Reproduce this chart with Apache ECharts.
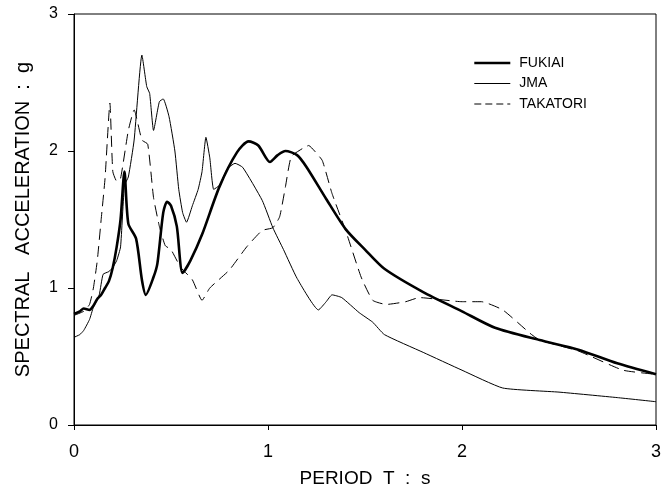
<!DOCTYPE html>
<html>
<head>
<meta charset="utf-8">
<script src="https://cdn.jsdelivr.net/npm/echarts@6/dist/echarts.min.js"></script>
<style>
html,body{margin:0;padding:0;background:#fff;}
#chart{width:671px;height:484px;}
</style>
</head>
<body>
<div id="chart"></div>
<script>
// Period (s) and spectral acceleration (g)
var fukiaiT  = [0,0.03,0.05,0.08,0.1,0.12,0.14,0.16,0.18,0.2,0.22,0.24,0.26,0.28,0.32,0.35,0.37,0.41,0.43,0.46,0.48,0.5,0.53,0.56,0.6,0.66,0.75,0.84,0.9,0.95,1.01,1.05,1.09,1.15,1.2,1.3,1.4,1.5,1.6,1.8,2.0,2.17,2.4,2.6,2.8,3.0];
var fukiaiSA = [0.81,0.83,0.85,0.84,0.87,0.92,0.95,1.0,1.05,1.15,1.3,1.5,1.85,1.47,1.36,1.06,0.95,1.08,1.18,1.55,1.63,1.6,1.45,1.11,1.2,1.39,1.74,1.99,2.07,2.04,1.92,1.97,2.0,1.97,1.88,1.65,1.43,1.28,1.14,0.97,0.83,0.71,0.62,0.55,0.45,0.37];

var jmaT  = [0,0.03,0.05,0.08,0.1,0.13,0.15,0.18,0.2,0.22,0.24,0.26,0.28,0.31,0.35,0.375,0.39,0.41,0.44,0.46,0.49,0.52,0.54,0.56,0.58,0.61,0.64,0.66,0.68,0.7,0.72,0.75,0.79,0.83,0.87,0.97,1.025,1.08,1.15,1.26,1.3,1.33,1.38,1.47,1.54,1.6,1.8,2.0,2.21,2.5,2.8,3.0];
var jmaSA = [0.64,0.66,0.69,0.77,0.86,0.95,1.1,1.12,1.15,1.2,1.3,1.75,1.81,2.08,2.7,2.47,2.42,2.15,2.36,2.38,2.25,2.0,1.72,1.55,1.48,1.6,1.72,1.85,2.1,1.95,1.72,1.75,1.87,1.91,1.88,1.64,1.44,1.28,1.07,0.84,0.9,0.95,0.93,0.82,0.75,0.66,0.53,0.4,0.27,0.24,0.2,0.17];

var takatoriT  = [0,0.05,0.08,0.1,0.12,0.14,0.16,0.185,0.2,0.22,0.24,0.28,0.31,0.35,0.38,0.41,0.44,0.47,0.5,0.55,0.61,0.66,0.7,0.8,0.89,0.97,1.025,1.06,1.09,1.12,1.18,1.21,1.24,1.28,1.33,1.4,1.48,1.54,1.61,1.71,1.78,2.0,2.1,2.21,2.35,2.4,2.6,2.83,3.0];
var takatoriSA = [0.8,0.83,0.88,1.0,1.2,1.5,1.8,2.35,1.85,1.78,1.8,2.15,2.3,2.08,2.05,1.66,1.45,1.31,1.28,1.15,1.06,0.91,1.0,1.13,1.3,1.42,1.44,1.52,1.74,1.96,2.02,2.04,2.0,1.93,1.69,1.42,1.08,0.91,0.88,0.9,0.93,0.9,0.9,0.84,0.67,0.62,0.54,0.40,0.37];

var seriesNames = ['FUKIAI', 'JMA', 'TAKATORI'];
var lineWidths = [2.6, 1, 1];
var xTicks = [0, 1, 2, 3];
var yTicks = [0, 1, 2, 3];

function pairs(t, v) { return t.map(function (x, i) { return [x, v[i]]; }); }

var FONT = 'Liberation Sans, Arial, sans-serif';
var DASH = [11, 6];
var chart = echarts.init(document.getElementById('chart'), null, {renderer: 'canvas'});
chart.setOption({
  animation: false,
  backgroundColor: '#fff',
  grid: {left: 74, right: 15, top: 14, bottom: 59, outerBoundsMode: 'none', containLabel: false,
         show: true, borderColor: '#000', borderWidth: 1, backgroundColor: 'transparent'},
  legend: {
    data: seriesNames.map(function (n, i) {
      return {name: n, itemStyle: {color: 'rgba(0,0,0,0)', borderWidth: 0, opacity: 0},
              lineStyle: {color: '#000', width: lineWidths[i], type: i === 2 ? [7, 4] : 'solid', opacity: 1}};
    }),
    orient: 'vertical',
    left: 468, top: 51,
    itemWidth: 36, itemHeight: 10, itemGap: 6.5,
    textStyle: {fontFamily: FONT, fontSize: 14, color: '#000', padding: [0, 0, 0, 4]},
    selectedMode: false
  },
  xAxis: {
    type: 'value', min: xTicks[0], max: xTicks[xTicks.length - 1], interval: 1,
    name: 'PERIOD  T  :  s', nameLocation: 'middle', nameGap: 44,
    nameTextStyle: {fontFamily: FONT, fontSize: 19, color: '#000'},
    axisLine: {lineStyle: {color: '#000', width: 1}},
    axisTick: {show: true, length: 5, lineStyle: {color: '#000'}},
    axisLabel: {fontFamily: FONT, fontSize: 18, color: '#000', margin: 18},
    splitLine: {show: false}
  },
  yAxis: {
    type: 'value', min: yTicks[0], max: yTicks[yTicks.length - 1], interval: 1,
    name: 'SPECTRAL   ACCELERATION  :  g', nameLocation: 'middle', nameGap: 41,
    nameTextStyle: {fontFamily: FONT, fontSize: 20, color: '#000'},
    axisLine: {lineStyle: {color: '#000', width: 1}},
    axisTick: {show: true, length: 6, lineStyle: {color: '#000'}},
    axisLabel: {fontFamily: FONT, fontSize: 16, color: '#000', margin: 16},
    splitLine: {show: false}
  },
  series: [
    {name: seriesNames[0], type: 'line', data: pairs(fukiaiT, fukiaiSA), showSymbol: false, symbol: 'none', smooth: 0.25,
     lineStyle: {color: '#000', width: lineWidths[0]}, itemStyle: {color: '#000'}},
    {name: seriesNames[1], type: 'line', data: pairs(jmaT, jmaSA), showSymbol: false, symbol: 'none', smooth: 0.15,
     lineStyle: {color: '#000', width: lineWidths[1]}, itemStyle: {color: '#000'}},
    {name: seriesNames[2], type: 'line', data: pairs(takatoriT, takatoriSA), showSymbol: false, symbol: 'none', smooth: 0.15,
     lineStyle: {color: '#000', width: lineWidths[2], type: DASH}, itemStyle: {color: '#000'}}
  ]
});
</script>
</body>
</html>
